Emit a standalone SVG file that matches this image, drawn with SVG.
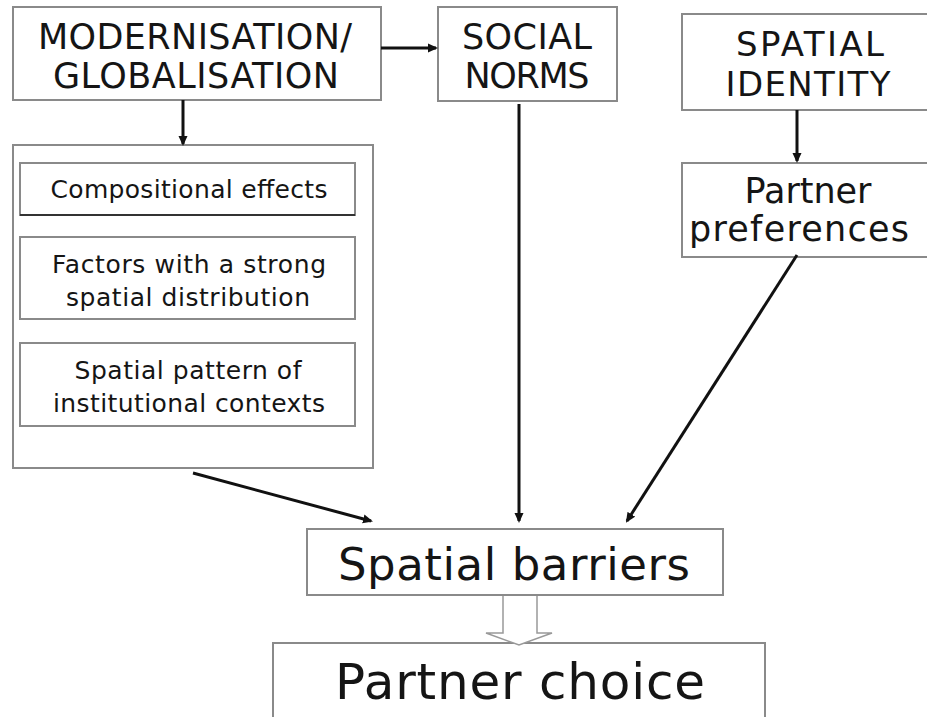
<svg xmlns="http://www.w3.org/2000/svg" width="927" height="717" viewBox="0 0 927 717">
<defs>
<style>
.box{fill:#fff;stroke:#8a8a8a;stroke-width:2}
.t{font-family:"DejaVu Sans","Liberation Sans",sans-serif;fill:#151515;text-anchor:middle}
.c{stroke:#111;stroke-width:3;fill:none}
</style>
<marker id="ah" markerWidth="10" markerHeight="10" refX="8" refY="5" orient="auto" markerUnits="userSpaceOnUse" viewBox="0 0 10 10">
<path d="M0,0.5 L10,5 L0,9.5 z" fill="#111"/>
</marker>
</defs>
<rect width="927" height="717" fill="#fff"/>
<g id="modernisation">
<rect class="box" x="13" y="7" width="368" height="93"/>
<text class="t" x="195" y="49" font-size="35" textLength="314" lengthAdjust="spacing">MODERNISATION/</text>
<text class="t" x="196" y="88" font-size="35" textLength="286" lengthAdjust="spacing">GLOBALISATION</text>
</g>
<g id="social-norms">
<rect class="box" x="438" y="7" width="179" height="94"/>
<text class="t" x="527" y="49" font-size="35" textLength="130" lengthAdjust="spacing">SOCIAL</text>
<text class="t" x="527" y="88" font-size="35" textLength="125" lengthAdjust="spacing">NORMS</text>
</g>
<g id="spatial-identity">
<rect class="box" x="682" y="14" width="250" height="96"/>
<text class="t" x="810" y="56" font-size="34" textLength="148" lengthAdjust="spacing">SPATIAL</text>
<text class="t" x="808" y="96" font-size="34" textLength="165" lengthAdjust="spacing">IDENTITY</text>
</g>
<g id="partner-preferences">
<rect class="box" x="682" y="163" width="250" height="94"/>
<text class="t" x="808" y="203" font-size="35" textLength="127" lengthAdjust="spacing">Partner</text>
<text class="t" x="799" y="241" font-size="35" textLength="220" lengthAdjust="spacing">preferences</text>
</g>
<g id="container">
<rect class="box" x="13" y="145" width="360" height="323"/>
</g>
<g id="compositional-effects">
<rect class="box" x="20" y="163" width="335" height="52"/>
<line x1="20" y1="215" x2="355" y2="215" stroke="#333" stroke-width="2"/>
<text class="t" x="189" y="198" font-size="25" textLength="277" lengthAdjust="spacing">Compositional effects</text>
</g>
<g id="factors">
<rect class="box" x="20" y="237" width="335" height="82"/>
<text class="t" x="189" y="273" font-size="25" textLength="274" lengthAdjust="spacing">Factors with a strong</text>
<text class="t" x="188" y="306" font-size="25" textLength="244" lengthAdjust="spacing">spatial distribution</text>
</g>
<g id="institutional">
<rect class="box" x="20" y="343" width="335" height="83"/>
<text class="t" x="188" y="379" font-size="25" textLength="227" lengthAdjust="spacing">Spatial pattern of</text>
<text class="t" x="189" y="412" font-size="25" textLength="272" lengthAdjust="spacing">institutional contexts</text>
</g>
<g id="spatial-barriers">
<rect class="box" x="307" y="529" width="416" height="66"/>
<text class="t" x="514" y="580" font-size="45" textLength="352" lengthAdjust="spacing">Spatial barriers</text>
</g>
<g id="partner-choice">
<rect class="box" x="273" y="643" width="492" height="80"/>
<text class="t" x="520" y="699" font-size="50" textLength="370" lengthAdjust="spacing">Partner choice</text>
</g>
<g id="connectors">
<line class="c" x1="381" y1="48" x2="436" y2="48" marker-end="url(#ah)"/>
<line class="c" x1="183" y1="100" x2="183" y2="144" marker-end="url(#ah)"/>
<line class="c" x1="797" y1="110" x2="797" y2="161" marker-end="url(#ah)"/>
<line class="c" x1="519" y1="104" x2="519" y2="521" marker-end="url(#ah)"/>
<line class="c" x1="193" y1="473" x2="371" y2="521" marker-end="url(#ah)"/>
<line class="c" x1="797" y1="255" x2="627" y2="521" marker-end="url(#ah)"/>
<path d="M503,596 L503,633 L486,633 L519,645 L552,633 L537,633 L537,596" fill="#fff" stroke="#999" stroke-width="1.5"/>
</g>
</svg>
